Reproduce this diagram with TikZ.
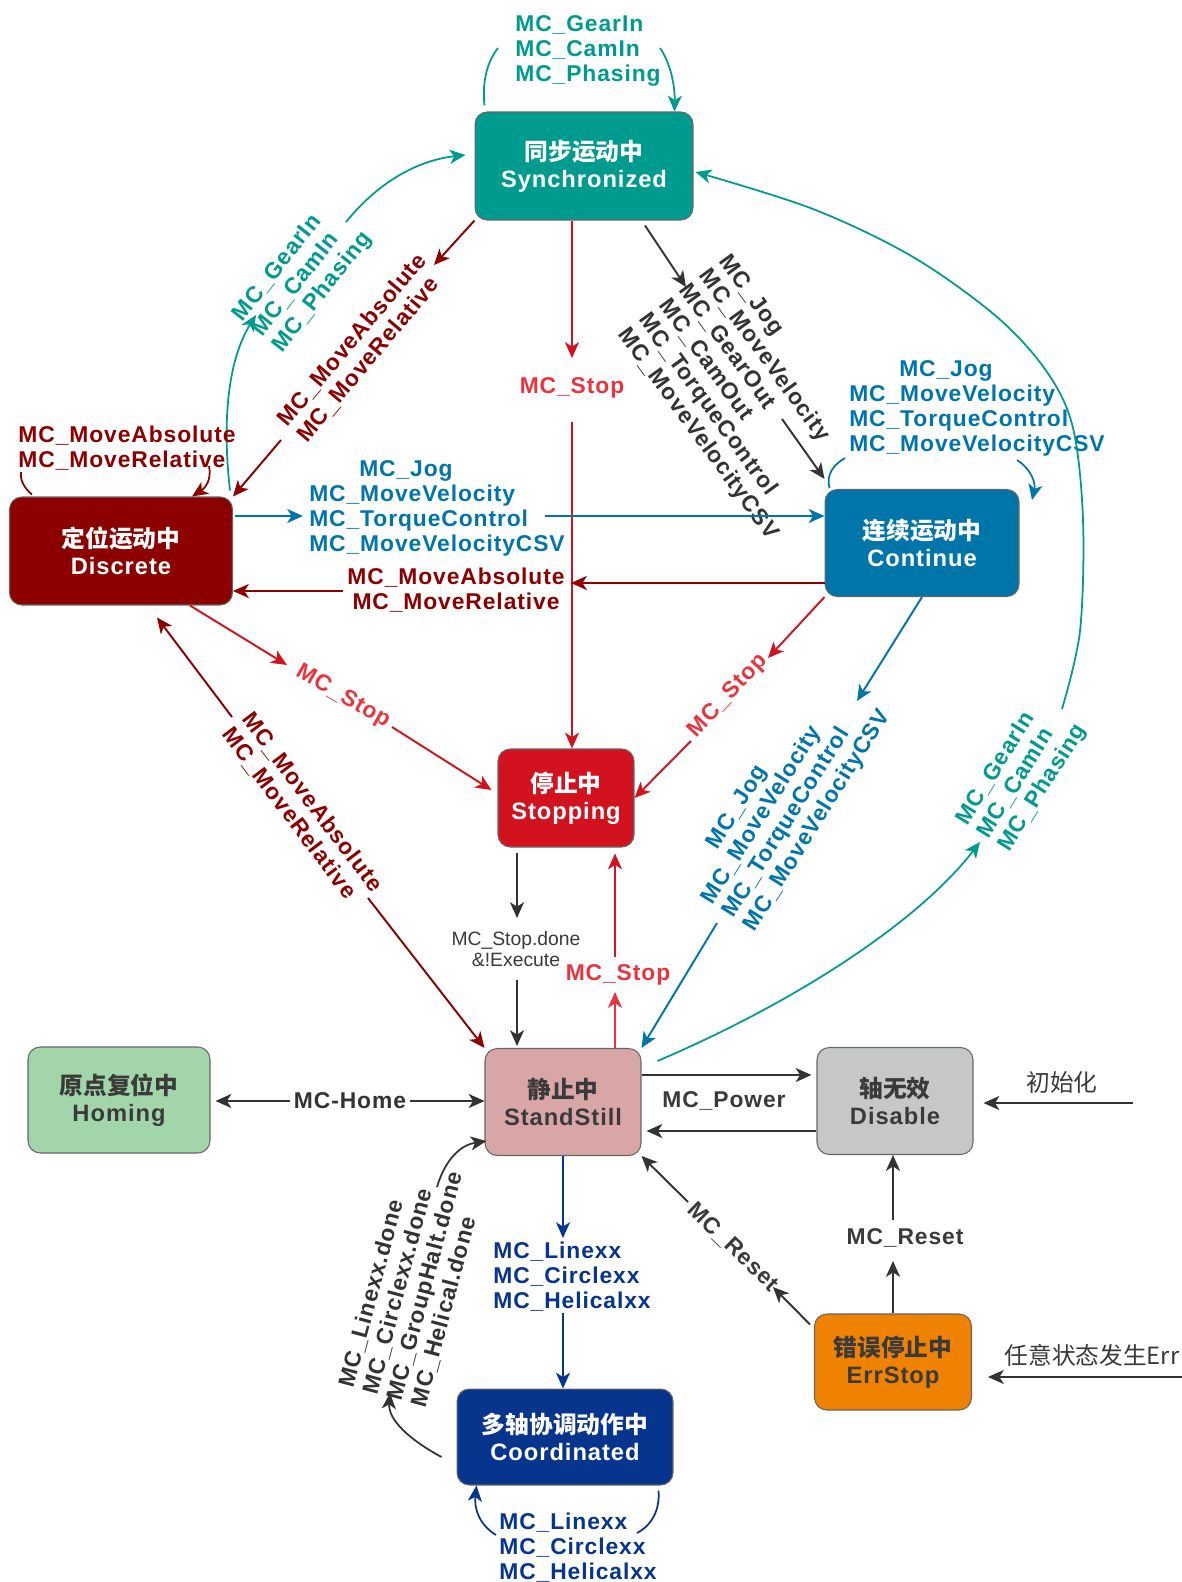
\documentclass[tikz,border=0pt]{standalone}
\usepackage{fontspec}
\setmainfont{Liberation Sans}
\newfontfamily\lbl{Liberation Sans}[LetterSpace=4]
\newfontfamily\cjk{Noto Sans CJK SC}
\usetikzlibrary{arrows.meta,calc,positioning}

\definecolor{syncgreen}{RGB}{0,155,143}
\definecolor{discred}{RGB}{140,0,0}
\definecolor{contblue}{RGB}{0,117,170}
\definecolor{stopred}{RGB}{211,18,31}
\definecolor{stoplbl}{RGB}{232,52,62}
\definecolor{stillpink}{RGB}{217,166,167}
\definecolor{homegreen}{RGB}{163,213,171}
\definecolor{disgray}{RGB}{198,200,199}
\definecolor{errorange}{RGB}{239,130,0}
\definecolor{coordblue}{RGB}{7,53,142}
\definecolor{lnblack}{RGB}{51,51,51}
\definecolor{txtgray}{RGB}{58,58,58}

\newcommand{\jogcmds}{\hspace*{1cm}MC\_Jog\\MC\_MoveVelocity\\MC\_TorqueControl\\MC\_MoveVelocityCSV}

\tikzset{
  state/.style={rectangle, rounded corners=7pt, draw=black!60, line width=0.6pt,
    align=center, inner sep=0pt, font=\lbl\bfseries\fontsize{13.5}{15.5}\selectfont},
  lab/.style={inner sep=0pt, align=left, font=\lbl\bfseries\fontsize{13}{14.2}\selectfont},
  link/.style={line width=1.1pt, ->},
  curvelink/.style={line width=1pt, ->},
}

\begin{document}
\begin{tikzpicture}[x=0.02cm,y=-0.02cm,>={Stealth[length=9pt,width=8pt,inset=2.5pt]}]
\fill[white] (0,0) rectangle (1182,1582);
\useasboundingbox (0,0) rectangle (1182,1582);

% Define nodes
\node[state, fill=syncgreen, text=white, minimum width=4.36cm, minimum height=2.16cm] (sync) at (584,166) {{\cjk 同步运动中}\\Synchronized};
\node[state, fill=discred, text=white, minimum width=4.46cm, minimum height=2.16cm] (disc) at (121,551) {{\cjk 定位运动中}\\Discrete};
\node[state, fill=contblue, text=white, minimum width=3.88cm, minimum height=2.14cm] (cont) at (922,543) {{\cjk 连续运动中}\\Continue};
\node[state, fill=stopred, text=white, minimum width=2.72cm, minimum height=1.96cm] (stop) at (566,798) {{\cjk 停止中}\\Stopping};
\node[state, fill=stillpink, text=txtgray, minimum width=3.12cm, minimum height=2.14cm] (still) at (563,1102) {{\cjk 静止中}\\StandStill};
\node[state, fill=homegreen, text=txtgray, minimum width=3.64cm, minimum height=2.12cm] (home) at (119,1100) {{\cjk 原点复位中}\\Homing};
\node[state, fill=disgray, text=txtgray, minimum width=3.12cm, minimum height=2.14cm] (dis) at (895,1101) {{\cjk 轴无效}\\Disable};
\node[state, fill=errorange, text=txtgray, minimum width=3.14cm, minimum height=1.92cm] (err) at (893,1362) {{\cjk 错误停止中}\\ErrStop};
\node[state, fill=coordblue, text=white, minimum width=4.32cm, minimum height=1.92cm] (coord) at (565,1437) {{\cjk 多轴协调动作中}\\Coordinated};

%% Synchronized
\coordinate (sa) at (498,48);
\coordinate (sb) at (660,48);
\draw[line width=1pt, syncgreen] ($(sync.north west)+(10,-6)$) .. controls (482,82) and (487,62) .. (sa);
\draw[curvelink, syncgreen] (sb) .. controls (670,62) and (675,85) .. ($(sync.north east)+(-19,0)$);
\node[lab, text=syncgreen] at (588,51) {MC\_GearIn\\MC\_CamIn\\MC\_Phasing};

\coordinate (sd1) at (434,265);
\coordinate (sd2) at (281,440);
\draw[link, discred] (sync.south west) -- (sd1);
\draw[link, discred] (sd2) -- (disc.north east);
\node[lab, text=discred, rotate=50] at (362,348) {MC\_MoveAbsolute\\MC\_MoveRelative};

\coordinate (ss1) at (572,358);
\coordinate (ss2) at (572,422);
\draw[link, stopred] ($(sync.south)+(-12,0)$) -- (ss1);
\draw[link, stopred] (ss2) -- ($(stop.north)+(6,0)$);
\node[lab, text=stoplbl] at (572,388) {MC\_Stop};

\coordinate (sc1) at (686,287);
\coordinate (sc2) at (782,419);
\draw[link, lnblack] ($(sync.south)+(61,5)$) -- (sc1);
\draw[link, lnblack] (sc2) -- ($(cont.north west)+(0,-10)$);
\node[lab, text=lnblack, rotate=-54] at (748,398) {MC\_Jog\\MC\_MoveVelocity\\MC\_GearOut\\MC\_CamOut\\MC\_TorqueControl\\MC\_MoveVelocityCSV};

%% Discrete
\coordinate (ds1) at (256,315);
\coordinate (ds2) at (346,222);
\draw[curvelink, syncgreen] ($(disc.north east)+(-3,-6)$) .. controls (222,420) and (228,360) .. (ds1);
\draw[curvelink, syncgreen] (ds2) .. controls (380,180) and (420,160) .. ($(sync.west)+(-9,-11)$);
\node[lab, text=syncgreen, rotate=52] at (303,277) {MC\_GearIn\\MC\_CamIn\\MC\_Phasing};

\coordinate (dd1) at (21,472);
\coordinate (dd2) at (209,466);
\draw[line width=1pt, discred] ($(disc.north west)+(23,-2)$) .. controls (24,488) and (20,480) .. (dd1);
\draw[curvelink, discred] (dd2) .. controls (212,480) and (205,488) .. ($(disc.north)+(71,0)$);
\node[lab, text=discred] at (127,448) {MC\_MoveAbsolute\\MC\_MoveRelative};

\coordinate (dc1) at (303,516);
\coordinate (dc2) at (545,516);
\draw[link, contblue] ($(disc.east)+(2,-35)$) -- (dc1);
\draw[link, contblue] (dc2) -- ($(cont.west)+(0,-27)$);
\node[lab, text=contblue] at (437,508) {\jogcmds};

\coordinate (cd1) at (571,583);
\coordinate (cd2) at (343,591);
\draw[link, discred] ($(cont.west)+(0,40)$) -- (cd1);
\draw[link, discred] (cd2) -- ($(disc.east)+(0,40)$);
\node[lab, text=discred, align=center] at (456,590) {MC\_MoveAbsolute\\MC\_MoveRelative};

\coordinate (dp1) at (287,665);
\coordinate (dp2) at (392,727);
\draw[link, stopred] ($(disc.south)+(69,0)$) -- (dp1);
\draw[link, stopred] (dp2) -- ($(stop.west)+(-6,-8)$);
\node[lab, text=stoplbl, rotate=-30] at (343,697) {MC\_Stop};

\coordinate (dt1) at (232,717);
\coordinate (dt2) at (368,898);
\draw[link, discred] (dt1) -- ($(disc.south)+(36,12)$);
\draw[link, discred] (dt2) -- (still.north west);
\node[lab, text=discred, rotate=-53] at (302,810) {MC\_MoveAbsolute\\MC\_MoveRelative};

%% Continue
\coordinate (cc1) at (845,458);
\coordinate (cc2) at (1017,460);
\draw[line width=1pt, contblue] ($(cont.north west)+(5,-1)$) .. controls (826,475) and (833,465) .. (cc1);
\draw[curvelink, contblue] (cc2) .. controls (1030,468) and (1036,482) .. (1032,500);
\node[lab, text=contblue] at (977,408) {\jogcmds};

\coordinate (cp1) at (768,658);
\coordinate (cp2) at (691,741);
\draw[link, stopred] (cont.south west) -- (cp1);
\draw[link, stopred] (cp2) -- (stop.east);
\node[lab, text=stoplbl, rotate=47] at (728,696) {MC\_Stop};

\coordinate (ct1) at (857,701);
\coordinate (ct2) at (717,923);
\draw[link, contblue] (cont.south) -- (ct1);
\draw[link, contblue] (ct2) -- (still.north east);
\node[lab, text=contblue, rotate=58] at (786,801) {\jogcmds};

%% StandStill
\coordinate (ts1) at (980,842);
\coordinate (ts2) at (1062,709);
\coordinate (syncin) at ($(sync.east)+(2,6)$);
\draw[curvelink, syncgreen] ($(still.north east)+(16,13)$) .. controls (800,1000) and (920,920) .. (ts1);
\draw[curvelink, syncgreen] plot[smooth, tension=0.55] coordinates {(ts2) (1080,631) (1083,520) (1073,428) (1047,372) (997,317) (913,257) (813,209) (syncin)};
\node[lab, text=syncgreen, rotate=58] at (1022,775) {MC\_GearIn\\MC\_CamIn\\MC\_Phasing};

\coordinate (pt1) at (517,918);
\coordinate (pt2) at (517,980);
\draw[link, lnblack] ($(stop.south)+(-49,5)$) -- (pt1);
\draw[link, lnblack] (pt2) -- ($(still.north)+(-46,-2)$);
\node[align=center, inner sep=0pt, text=txtgray, font=\fontsize{11}{12}\selectfont] at (516,949) {MC\_Stop.done\\\&!Execute};

\coordinate (tp1) at (615,992);
\coordinate (tp2) at (615,957);
\draw[link, stoplbl] ($(still.north)+(52,0)$) -- (tp1);
\draw[link, stopred] (tp2) -- ($(stop.south)+(49,6)$);
\node[lab, text=stoplbl] at (618,975) {MC\_Stop};

\draw[line width=1.1pt, lnblack, <->] ($(home.east)+(5,1)$) -- node[lab, fill=white, inner sep=2pt] {MC-Home} ($(still.west)+(0,-1)$);

\draw[link, lnblack] ($(still.east)+(0,-27)$) -- ($(dis.west)+(-5,-26)$);
\draw[link, lnblack] ($(dis.west)+(0,30)$) -- ($(still.east)+(5,29)$);
\node[lab, text=txtgray] at (724,1101) {MC\_Power};

\coordinate (tc1) at (563,1238);
\coordinate (tc2) at (563,1313);
\draw[link, coordblue] (still.south) -- (tc1);
\draw[link, coordblue] (tc2) -- ($(coord.north)+(-2,0)$);
\node[lab, text=coordblue] at (572,1277) {MC\_Linexx\\MC\_Circlexx\\MC\_Helicalxx};

%% Disable / ErrStop
\coordinate (init) at (1133,1103);
\draw[link, lnblack] (init) -- ($(dis.east)+(10,2)$);
\node[text=txtgray, inner sep=0pt, font=\cjk\fontsize{13.5}{15}\selectfont] at (1062,1082) {初始化};

\coordinate (anyerr) at (1182,1377);
\draw[link, lnblack] (anyerr) -- ($(err.east)+(16,15)$);
\node[text=txtgray, inner sep=0pt, font=\cjk\fontsize{13.5}{15}\selectfont] at (1092,1355) {任意状态发生Err};

\coordinate (ed1) at (893,1261);
\coordinate (ed2) at (893,1220);
\draw[link, lnblack] (err.north) -- (ed1);
\draw[link, lnblack] (ed2) -- ($(dis.south)+(-2,0)$);
\node[lab, text=txtgray] at (905,1238) {MC\_Reset};

\coordinate (es1) at (773,1287);
\coordinate (es2) at (688,1202);
\draw[link, lnblack] ($(err.north west)+(-4,11)$) -- (es1);
\draw[link, lnblack] (es2) -- (still.south east);
\node[lab, text=txtgray, rotate=-44] at (733,1247) {MC\_Reset};

%% Coordinated
\coordinate (os1) at (390,1393);
\coordinate (os2) at (437,1187);
\draw[curvelink, lnblack] ($(coord.west)+(-15,20)$) .. controls (410,1440) and (388,1420) .. (os1);
\draw[curvelink, lnblack] (os2) .. controls (445,1160) and (460,1145) .. ($(still.south west)+(2,-15)$);
\node[lab, text=lnblack, rotate=75] at (413,1283) {MC\_Linexx.done\\MC\_Circlexx.done\\MC\_GroupHalt.done\\MC\_Helical.done};

\coordinate (oo1) at (637,1533);
\coordinate (oo2) at (496,1535);
\draw[line width=1pt, coordblue] ($(coord.south east)+(-15,5)$) .. controls (660,1510) and (652,1525) .. (oo1);
\draw[curvelink, coordblue] (oo2) .. controls (480,1525) and (474,1510) .. ($(coord.south west)+(20,0)$);
\node[lab, text=coordblue] at (578,1548) {MC\_Linexx\\MC\_Circlexx\\MC\_Helicalxx};
\end{tikzpicture}
\end{document}
